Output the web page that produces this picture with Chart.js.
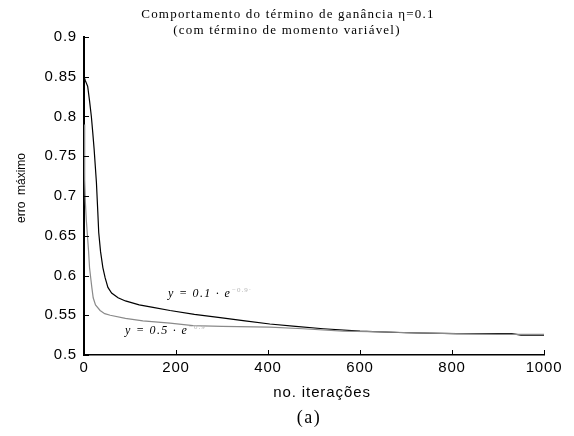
<!DOCTYPE html>
<html>
<head>
<meta charset="utf-8">
<script src="https://cdn.jsdelivr.net/npm/chart.js@4.4.0/dist/chart.umd.min.js"></script>
<style>
  html, body { margin: 0; padding: 0; background: #fff; }
  #wrap { width: 574px; height: 436px; }
</style>
</head>
<body>
<div id="wrap"><canvas id="erroChart" width="574" height="436"></canvas></div>
<script>
// eta = 0.1, momento 0.1 * e^(...)
const iterA = [0, 3, 8, 12, 16, 19, 22, 27, 30, 32, 36, 41, 46, 52, 60, 74, 90, 120, 150, 187, 240, 296, 350, 404, 460, 520, 600, 700, 810, 930, 950, 1000];
const erroA = [0.850, 0.845, 0.838, 0.820, 0.800, 0.780, 0.759, 0.717, 0.680, 0.654, 0.630, 0.610, 0.597, 0.585, 0.578, 0.572, 0.568, 0.563, 0.560, 0.556, 0.551, 0.547, 0.543, 0.539, 0.536, 0.533, 0.530, 0.528, 0.527, 0.527, 0.525, 0.525];

// eta = 0.1, momento 0.5 * e^(...)
const iterB = [0, 1, 2, 3, 5, 7, 10, 12, 15, 17, 20, 25, 35, 45, 57, 90, 128, 187, 237, 300, 404, 476, 563, 650, 710, 800, 900, 1000];
const erroB = [0.790, 0.750, 0.720, 0.692, 0.670, 0.654, 0.630, 0.610, 0.595, 0.585, 0.572, 0.563, 0.556, 0.552, 0.550, 0.546, 0.543, 0.540, 0.537, 0.536, 0.535, 0.533, 0.530, 0.529, 0.528, 0.527, 0.526, 0.526];

const xTicks = [0, 200, 400, 600, 800, 1000];
const yTicks = [0.5, 0.55, 0.6, 0.65, 0.7, 0.75, 0.8, 0.85, 0.9];

function toPoints(xs, ys) {
    return xs.map((x, i) => ({ x: x, y: ys[i] }));
}

// label "y = k · e" followed by a faint exponent
function curveLabel(ctx, text, x, y) {
    ctx.textAlign = 'left';
    ctx.fillStyle = '#000';
    ctx.font = 'italic 12px "Liberation Serif", serif';
    ctx.letterSpacing = '1.3px';
    ctx.fillText(text, x, y);
    const w = ctx.measureText(text).width;
    ctx.fillStyle = '#b5b5b5';
    ctx.font = '7px "Liberation Serif", serif';
    ctx.letterSpacing = '1px';
    ctx.fillText('\u22120.9\u00b7', x + w + 1, y - 4);
    ctx.letterSpacing = '0px';
}

const extrasPlugin = {
    id: 'extras',
    beforeDraw(chart) {
        // spaced-out tick labels
        chart.ctx.letterSpacing = '0.8px';
    },
    afterDraw(chart) {
        const ctx = chart.ctx;
        const xs = chart.scales.x;
        const ys = chart.scales.y;
        const area = chart.chartArea;
        ctx.save();
        ctx.letterSpacing = '0px';

        // inward tick marks
        ctx.strokeStyle = '#000';
        ctx.lineWidth = 1;
        xTicks.forEach(v => {
            const px = Math.round(xs.getPixelForValue(v)) + 0.5;
            ctx.beginPath();
            ctx.moveTo(px, area.bottom);
            ctx.lineTo(px, area.bottom - 5);
            ctx.stroke();
        });
        yTicks.forEach(v => {
            const py = Math.round(ys.getPixelForValue(v)) + 0.5;
            ctx.beginPath();
            ctx.moveTo(area.left, py);
            ctx.lineTo(area.left + 5, py);
            ctx.stroke();
        });

        // title
        ctx.fillStyle = '#000';
        ctx.textAlign = 'left';
        ctx.textBaseline = 'middle';
        ctx.font = '13px "Liberation Serif", serif';
        ctx.letterSpacing = '1.2px';
        const t1 = 'Comportamento do término de ganância \u03b7=0.1';
        const t2 = '(com término de momento variável)';
        ctx.fillText(t1, 288 - ctx.measureText(t1).width / 2, 15);
        ctx.fillText(t2, 287 - ctx.measureText(t2).width / 2, 31);

        // axis titles
        ctx.font = '15px "Liberation Sans", sans-serif';
        ctx.letterSpacing = '0.9px';
        const xt = 'no. iterações';
        ctx.fillText(xt, 322 - ctx.measureText(xt).width / 2, 393);
        ctx.font = '18px "Liberation Serif", serif';
        ctx.letterSpacing = '1.5px';
        ctx.fillText('(a)', 309 - ctx.measureText('(a)').width / 2, 418);
        ctx.letterSpacing = '0px';

        ctx.save();
        ctx.translate(22, 188);
        ctx.rotate(-Math.PI / 2);
        ctx.textAlign = 'center';
        ctx.font = '12px "Liberation Sans Narrow", "Liberation Sans", sans-serif';
        ctx.fillText('erro  máximo', 0, 0);
        ctx.restore();

        // curve labels
        curveLabel(ctx, 'y = 0.1 · e', 168, 294);
        curveLabel(ctx, 'y = 0.5 · e', 125, 331);
        ctx.restore();
    }
};

const ctx = document.getElementById('erroChart').getContext('2d');
const erroChart = new Chart(ctx, {
    type: 'line',
    data: {
        datasets: [
            {
                label: '0.5',
                data: toPoints(iterB, erroB),
                borderColor: '#8a8a8a',
                borderWidth: 1.2,
                pointRadius: 0,
                tension: 0,
                fill: false
            },
            {
                label: '0.1',
                data: toPoints(iterA, erroA),
                borderColor: '#000',
                borderWidth: 1.2,
                pointRadius: 0,
                tension: 0,
                fill: false
            }
        ]
    },
    options: {
        responsive: false,
        animation: false,
        layout: { padding: { top: 37, right: 30, left: 0, bottom: 0 } },
        plugins: {
            legend: { display: false },
            tooltip: { enabled: false }
        },
        scales: {
            x: {
                type: 'linear',
                min: 0,
                max: 1000,
                afterFit(scale) { scale.height = 81; },
                afterBuildTicks(scale) { scale.ticks = xTicks.map(v => ({ value: v })); },
                grid: { display: false, drawTicks: false },
                border: { display: true, color: '#000', width: 1.5 },
                ticks: {
                    color: '#000',
                    padding: 4,
                    maxRotation: 0,
                    font: { family: '"Liberation Sans", sans-serif', size: 15 },
                    callback: v => String(v)
                }
            },
            y: {
                type: 'linear',
                min: 0.5,
                max: 0.9,
                afterFit(scale) { scale.width = 84; },
                afterBuildTicks(scale) { scale.ticks = yTicks.map(v => ({ value: v })); },
                grid: { display: false, drawTicks: false },
                border: { display: true, color: '#000', width: 2 },
                ticks: {
                    color: '#000',
                    padding: 7,
                    font: { family: '"Liberation Sans", sans-serif', size: 15 },
                    callback: v => String(Math.round(v * 100) / 100)
                }
            }
        }
    },
    plugins: [extrasPlugin]
});
</script>
</body>
</html>
